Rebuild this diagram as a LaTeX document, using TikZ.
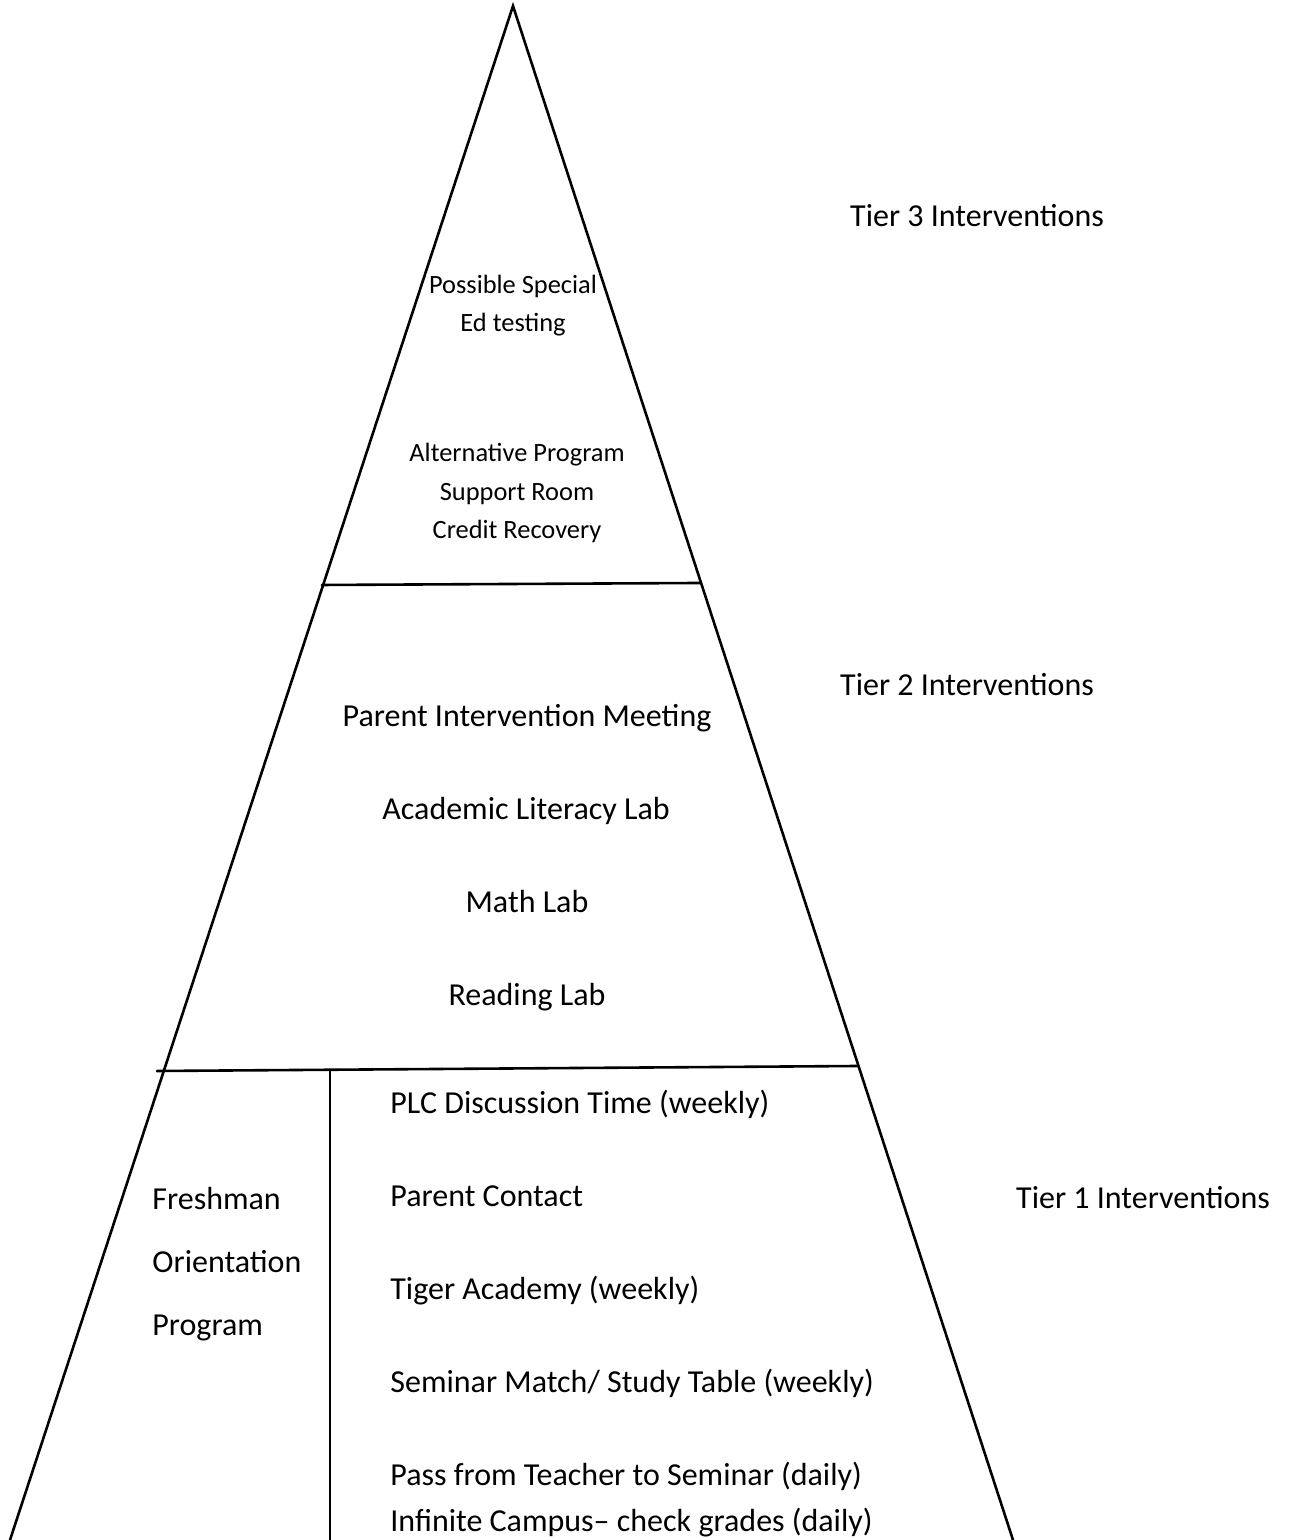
\documentclass[tikz,border=0pt]{standalone}
\usepackage{fontspec}
\setmainfont{Carlito}
\usepackage{tkz-euclide}
\definecolor{LineClr}{rgb}{0,0,0}
\tikzset{
  bigtxt/.style={font=\fontsize{16}{19}\selectfont,inner sep=0pt,anchor=mid,yshift=-3pt},
  smalltxt/.style={font=\fontsize{13.2}{19}\selectfont,inner sep=0pt,anchor=mid,yshift=-3pt},
  listtxt/.style={bigtxt,anchor=mid west}
}

\begin{document}
\begin{tikzpicture}[x=50pt,y=50pt]
\useasboundingbox (0,0) rectangle (12.92,15.40);
\tkzSetUpLine[line width=1.3pt,color=LineClr]

\tkzDefPoints{5.13/15.34/T,0.10/0/L,10.13/0/R}
\tkzDefPoints{3.22/9.55/A,7.00/9.57/B,1.57/4.69/C,8.58/4.74/D,3.30/4.69/E,3.30/0/F}

\tkzDrawPolySeg(L,T,R)
\tkzDrawSegments(A,B C,D E,F)

% tier labels
\node[bigtxt] (tier3) at (9.77,13.24) {Tier 3 Interventions};
\node[bigtxt] (tier2) at (9.67,8.55) {Tier 2 Interventions};
\node[bigtxt] (tier1) at (11.43,3.42) {Tier 1 Interventions};

% top
\node[smalltxt] (special) at (5.13,12.57) {Possible Special};
\node[smalltxt] (edtest) at (5.13,12.19) {Ed testing};
\node[smalltxt] (altprog) at (5.17,10.89) {Alternative Program};
\node[smalltxt] (support) at (5.17,10.50) {Support Room};
\node[smalltxt] (credit) at (5.17,10.12) {Credit Recovery};

% middle
\node[bigtxt] (parentmeet) at (5.27,8.24) {Parent Intervention Meeting};
\node[bigtxt] (litlab) at (5.26,7.31) {Academic Literacy Lab};
\node[bigtxt] (mathlab) at (5.27,6.38) {Math Lab};
\node[bigtxt] (readlab) at (5.27,5.45) {Reading Lab};

% bottom
\node[listtxt] (fresh) at (1.52,3.41) {Freshman};
\node[listtxt] (orient) at (1.52,2.78) {Orientation};
\node[listtxt] (prog) at (1.52,2.15) {Program};

\node[listtxt] (plc) at (3.90,4.37) {PLC Discussion Time (weekly)};
\node[listtxt] (contact) at (3.90,3.44) {Parent Contact};
\node[listtxt] (tiger) at (3.90,2.51) {Tiger Academy (weekly)};
\node[listtxt] (seminar) at (3.90,1.58) {Seminar Match/ Study Table (weekly)};
\node[listtxt] (pass) at (3.90,0.65) {Pass from Teacher to Seminar (daily)};
\node[listtxt] (campus) at (3.90,0.19) {Infinite Campus– check grades (daily)};

\end{tikzpicture}
\end{document}
